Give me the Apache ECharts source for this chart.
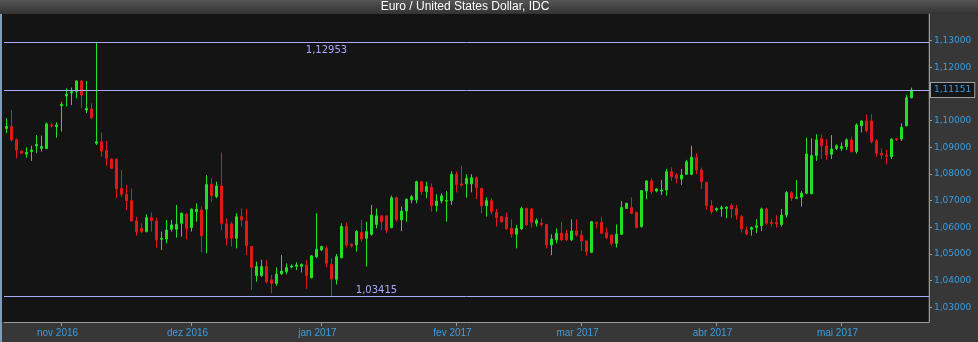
<!DOCTYPE html>
<html>
<head>
<meta charset="utf-8">
<script src="https://cdn.jsdelivr.net/npm/echarts/dist/echarts.min.js"></script>
<style>
html,body{margin:0;padding:0;background:#373737;}
#chart{width:978px;height:342px;}
</style>
</head>
<body>
<div id="chart"></div>
<script>
// ---- data (EUR/USD daily, 6 sessions a week) ----
const titleText = 'Euro / United States Dollar, IDC';

const open = [
1.0971,1.0978,1.0928,1.0886,1.0875,1.0884,1.0905,1.0896,1.0896,1.0984,
1.0978,1.1056,1.1093,1.1104,1.1109,1.1149,1.1040,1.1044,1.0915,1.0921,
1.0888,1.0856,1.0856,1.0746,1.0724,1.0700,1.0624,1.0596,1.0584,1.0636,
1.0624,1.0555,1.0556,1.0593,1.0593,1.0615,1.0650,1.0599,1.0659,1.0665,
1.0668,1.0761,1.0715,1.0755,1.0613,1.0613,1.0559,1.0640,1.0624,1.0528,
1.0419,1.0419,1.0453,1.0403,1.0390,1.0426,1.0434,1.0451,1.0454,1.0454,
1.0459,1.0411,1.0490,1.0515,1.0521,1.0461,1.0405,1.0486,1.0603,1.0536,
1.0534,1.0581,1.0559,1.0574,1.0611,1.0643,1.0643,1.0599,1.0711,1.0628,
1.0661,1.0703,1.0703,1.0771,1.0734,1.0750,1.0681,1.0699,1.0698,1.0700,
1.0799,1.0763,1.0763,1.0763,1.0786,1.0746,1.0681,1.0700,1.0656,1.0640,
1.0638,1.0596,1.0574,1.0594,1.0671,1.0669,1.0615,1.0616,1.0611,1.0534,
1.0553,1.0578,1.0578,1.0553,1.0586,1.0571,1.0549,1.0506,1.0619,1.0619,
1.0580,1.0571,1.0540,1.0574,1.0671,1.0674,1.0656,1.0603,1.0736,1.0774,
1.0736,1.0736,1.0740,1.0809,1.0796,1.0781,1.0799,1.0799,1.0863,1.0815,
1.0769,1.0681,1.0666,1.0669,1.0671,1.0681,1.0671,1.0640,1.0590,1.0593,
1.0600,1.0606,1.0669,1.0619,1.0619,1.0611,1.0646,1.0730,1.0709,1.0713,
1.0728,1.0726,1.0869,1.0932,1.0905,1.0874,1.0896,1.0896,1.0903,1.0928,
1.0884,1.0981,1.0999,1.0999,1.0924,1.0878,1.0871,1.0865,1.0932,1.0931,
1.0981,1.1086];

const close = [
1.0978,1.0928,1.0890,1.0878,1.0881,1.0890,1.0911,1.0903,1.0988,1.0981,
1.0984,1.1061,1.1099,1.1109,1.1149,1.1096,1.1046,1.1011,1.0921,1.0886,
1.0859,1.0821,1.0744,1.0724,1.0700,1.0624,1.0584,1.0584,1.0636,1.0625,
1.0553,1.0559,1.0590,1.0609,1.0611,1.0653,1.0596,1.0668,1.0668,1.0568,
1.0761,1.0719,1.0755,1.0615,1.0559,1.0559,1.0640,1.0628,1.0531,1.0450,
1.0453,1.0453,1.0396,1.0390,1.0425,1.0436,1.0449,1.0455,1.0459,1.0461,
1.0419,1.0493,1.0518,1.0528,1.0465,1.0406,1.0490,1.0603,1.0534,1.0531,
1.0584,1.0556,1.0584,1.0646,1.0643,1.0621,1.0590,1.0711,1.0628,1.0661,
1.0705,1.0715,1.0771,1.0734,1.0753,1.0681,1.0699,1.0718,1.0701,1.0799,
1.0761,1.0758,1.0784,1.0786,1.0749,1.0681,1.0700,1.0659,1.0636,1.0621,
1.0596,1.0574,1.0596,1.0671,1.0609,1.0619,1.0626,1.0611,1.0534,1.0556,
1.0578,1.0553,1.0553,1.0586,1.0571,1.0549,1.0509,1.0621,1.0615,1.0578,
1.0561,1.0540,1.0574,1.0674,1.0690,1.0653,1.0599,1.0738,1.0774,1.0734,
1.0744,1.0740,1.0809,1.0790,1.0784,1.0796,1.0846,1.0863,1.0815,1.0771,
1.0681,1.0659,1.0671,1.0674,1.0676,1.0669,1.0646,1.0594,1.0575,1.0599,
1.0606,1.0669,1.0615,1.0614,1.0614,1.0646,1.0731,1.0709,1.0713,1.0728,
1.0875,1.0869,1.0928,1.0906,1.0871,1.0894,1.0906,1.0903,1.0928,1.0884,
1.0984,1.0999,1.0963,1.0921,1.0878,1.0871,1.0866,1.0931,1.0928,1.0975,
1.1086,1.11151];

const low = [
1.0953,1.0921,1.0859,1.0876,1.0861,1.0849,1.0878,1.0884,1.0893,1.0975,
1.0936,1.0959,1.1053,1.1059,1.1084,1.1046,1.1028,1.1006,1.0909,1.0865,
1.0831,1.0819,1.0709,1.0715,1.0665,1.0621,1.0569,1.0578,1.0581,1.0584,
1.0524,1.0515,1.0540,1.0584,1.0561,1.0565,1.0555,1.0584,1.0621,1.0506,
1.0503,1.0696,1.0709,1.0590,1.0531,1.0528,1.0521,1.0603,1.0496,1.0365,
1.0396,1.0415,1.0390,1.0353,1.0381,1.0421,1.0424,1.0446,1.0440,1.0431,
1.0369,1.0409,1.0484,1.0511,1.0450,1.03415,1.0386,1.0484,1.0524,1.0524,
1.0509,1.0546,1.0453,1.0569,1.0596,1.0590,1.0578,1.0596,1.0621,1.0586,
1.0621,1.0690,1.0690,1.0721,1.0709,1.0659,1.0659,1.0690,1.0621,1.0684,
1.0731,1.0753,1.0711,1.0731,1.0706,1.0653,1.0640,1.0649,1.0603,1.0618,
1.0590,1.0561,1.0521,1.0590,1.0606,1.0599,1.0603,1.0603,1.0521,1.0496,
1.0540,1.0549,1.0549,1.0549,1.0565,1.0511,1.0494,1.0503,1.0596,1.0574,
1.0556,1.0531,1.0524,1.0571,1.0669,1.0649,1.0596,1.0599,1.0706,1.0724,
1.0731,1.0721,1.0719,1.0774,1.0765,1.0759,1.0796,1.0796,1.0799,1.0744,
1.0665,1.0649,1.0659,1.0640,1.0634,1.0634,1.0628,1.0581,1.0571,1.0569,
1.0578,1.0586,1.0609,1.0603,1.0599,1.0603,1.0636,1.0699,1.0706,1.0678,
1.0724,1.0724,1.0849,1.0856,1.0853,1.0856,1.0890,1.0886,1.0890,1.0881,
1.0876,1.0956,1.0956,1.0915,1.0865,1.0856,1.0836,1.0856,1.0924,1.0924,
1.0978,1.1084];

const high = [
1.1009,1.1040,1.0934,1.0888,1.0900,1.0906,1.0946,1.0944,1.0993,1.0991,
1.0994,1.1071,1.1121,1.1124,1.1152,1.1152,1.1149,1.1065,1.12953,1.0956,
1.0924,1.0860,1.0858,1.0815,1.0759,1.0746,1.0640,1.0615,1.0649,1.0656,
1.0636,1.0584,1.0628,1.0628,1.0684,1.0655,1.0652,1.0671,1.0690,1.0678,
1.0796,1.0784,1.0771,1.0881,1.0634,1.0621,1.0653,1.0671,1.0669,1.0530,
1.0471,1.0478,1.0478,1.0421,1.0450,1.0496,1.0465,1.0461,1.0469,1.0465,
1.0478,1.0495,1.0653,1.0531,1.0531,1.0484,1.0500,1.0615,1.0618,1.0540,
1.0590,1.0628,1.0621,1.0684,1.0671,1.0645,1.0645,1.0719,1.0715,1.0678,
1.0709,1.0721,1.0775,1.0775,1.0771,1.0765,1.0724,1.0728,1.0736,1.0811,
1.0809,1.0831,1.0799,1.0799,1.0790,1.0749,1.0713,1.0709,1.0669,1.0640,
1.0656,1.0630,1.0609,1.0678,1.0674,1.0671,1.0634,1.0634,1.0613,1.0574,
1.0596,1.0621,1.0590,1.0630,1.0630,1.0590,1.0551,1.0624,1.0621,1.0640,
1.0599,1.0573,1.0611,1.0699,1.0692,1.0713,1.0659,1.0740,1.0776,1.0784,
1.0746,1.0778,1.0819,1.0825,1.0803,1.0819,1.0853,1.0906,1.0878,1.0824,
1.0771,1.0703,1.0674,1.0681,1.0678,1.0690,1.0684,1.0646,1.0603,1.0603,
1.0631,1.0674,1.0674,1.0631,1.0646,1.0669,1.0736,1.0736,1.0778,1.0736,
1.0936,1.0934,1.0949,1.0949,1.0931,1.0946,1.0911,1.0919,1.0934,1.0940,
1.0990,1.1001,1.1024,1.1024,1.0931,1.0896,1.0890,1.0934,1.0934,1.0990,
1.1096,1.1124];

// month labels on the time axis and the session index where each sits
const monthLabels = ['nov 2016','dez 2016','jan 2017','fev 2017','mar 2017','abr 2017','mai 2017'];
const monthIndex  = [11, 37, 63, 90, 115, 142, 167];

// price axis ticks
const yTicks = [1.03,1.04,1.05,1.06,1.07,1.08,1.09,1.10,1.11,1.12,1.13];

// reference lines: period high, period low, last close
const periodHigh = 1.12953;
const periodLow  = 1.03415;
const lastClose  = 1.11151;
const highLabelAt = 64;   // session index under which the high label sits
const lowLabelAt  = 74;   // session index above which the low label sits

// one category per session, plus empty slots to the right edge
const slotCount = 185;
const categories = Array.from({length: slotCount}, (_, i) => String(i));

// ---- chart ----
const fmt = v => v.toFixed(5).replace('.', ',');
const candles = open.map((o, i) => [o, close[i], low[i], high[i]]);

const chart = echarts.init(document.getElementById('chart'), null, {renderer: 'canvas'});
const blue = '#3c9ce0';
const lineCol = '#a9a9ff';
const axisGray = '#9a9a9a';

chart.setOption({
  animation: false,
  backgroundColor: '#373737',
  graphic: [
    {type: 'rect', z: -10, silent: true, shape: {x: 0, y: 0, width: 978, height: 14},
     style: {fill: new echarts.graphic.LinearGradient(0, 0, 0, 1, [{offset: 0, color: '#545454'}, {offset: 1, color: '#333333'}])}},
    {type: 'rect', z: -10, silent: true, shape: {x: 2, y: 14, width: 926, height: 308}, style: {fill: '#141414'}},
    {type: 'rect', z: -10, silent: true, shape: {x: 0, y: 14, width: 2, height: 328}, style: {fill: '#7f9cb8'}},
    {type: 'text', z: 10, silent: true, x: 465, y: 7,
     style: {text: titleText, fill: '#ffffff', font: '12px "Liberation Sans", Arial, sans-serif', textAlign: 'center', textVerticalAlign: 'middle'}}
  ],
  grid: {left: 4, right: 49, top: 14, bottom: 20, containLabel: false},
  xAxis: {
    type: 'category',
    data: categories,
    boundaryGap: true,
    axisLine: {show: true, lineStyle: {color: axisGray, width: 1}},
    axisTick: {show: true, alignWithLabel: true, length: 4, lineStyle: {color: axisGray},
      interval: (idx) => monthIndex.indexOf(idx) >= 0},
    axisLabel: {show: true, color: blue, fontSize: 10, fontFamily: '"Liberation Sans", Arial, sans-serif',
      margin: 6, padding: [0, 8, 0, 0],
      interval: (idx) => monthIndex.indexOf(idx) >= 0,
      formatter: (val, idx) => { const k = monthIndex.indexOf(idx); return k >= 0 ? monthLabels[k] : ''; }},
    splitLine: {show: false}
  },
  yAxis: {
    type: 'value',
    position: 'right',
    scale: true,
    min: 1.0245,
    max: 1.1400,
    axisLine: {show: true, lineStyle: {color: axisGray, width: 1}},
    axisTick: {show: true, length: 3, lineStyle: {color: axisGray}, customValues: yTicks},
    axisLabel: {show: true, color: blue, fontSize: 9, fontFamily: '"DejaVu Sans", Verdana, sans-serif',
      margin: 5, customValues: yTicks, formatter: fmt},
    splitLine: {show: false}
  },
  series: [{
    type: 'candlestick',
    data: candles,
    barWidth: 2,
    itemStyle: {color: '#22e022', color0: '#e01818', borderColor: '#22e022', borderColor0: '#e01818', borderWidth: 1},
    markLine: {
      silent: true,
      precision: 5,
      symbol: ['none', 'none'],
      lineStyle: {color: lineCol, width: 1, type: 'solid'},
      label: {show: false},
      data: [
        {yAxis: periodHigh},
        {yAxis: periodLow},
        {yAxis: lastClose, label: {show: true, position: 'end', distance: 2, formatter: fmt(lastClose),
          color: blue, fontSize: 9, fontFamily: '"DejaVu Sans", Verdana, sans-serif',
          backgroundColor: '#161616', borderColor: '#a0a0a0', borderWidth: 1, padding: [3, 3, 2, 3]}}
      ]
    },
    markPoint: {
      silent: true,
      symbol: 'circle',
      symbolSize: 0,
      data: [
        {coord: [highLabelAt, periodHigh], label: {show: true, position: 'inside', offset: [0, 8], formatter: fmt(periodHigh),
          color: lineCol, fontSize: 10, fontFamily: '"DejaVu Sans", Verdana, sans-serif'}},
        {coord: [lowLabelAt, periodLow], label: {show: true, position: 'inside', offset: [0, -6], formatter: fmt(periodLow),
          color: lineCol, fontSize: 10, fontFamily: '"DejaVu Sans", Verdana, sans-serif'}}
      ]
    }
  }]
});
</script>
</body>
</html>
